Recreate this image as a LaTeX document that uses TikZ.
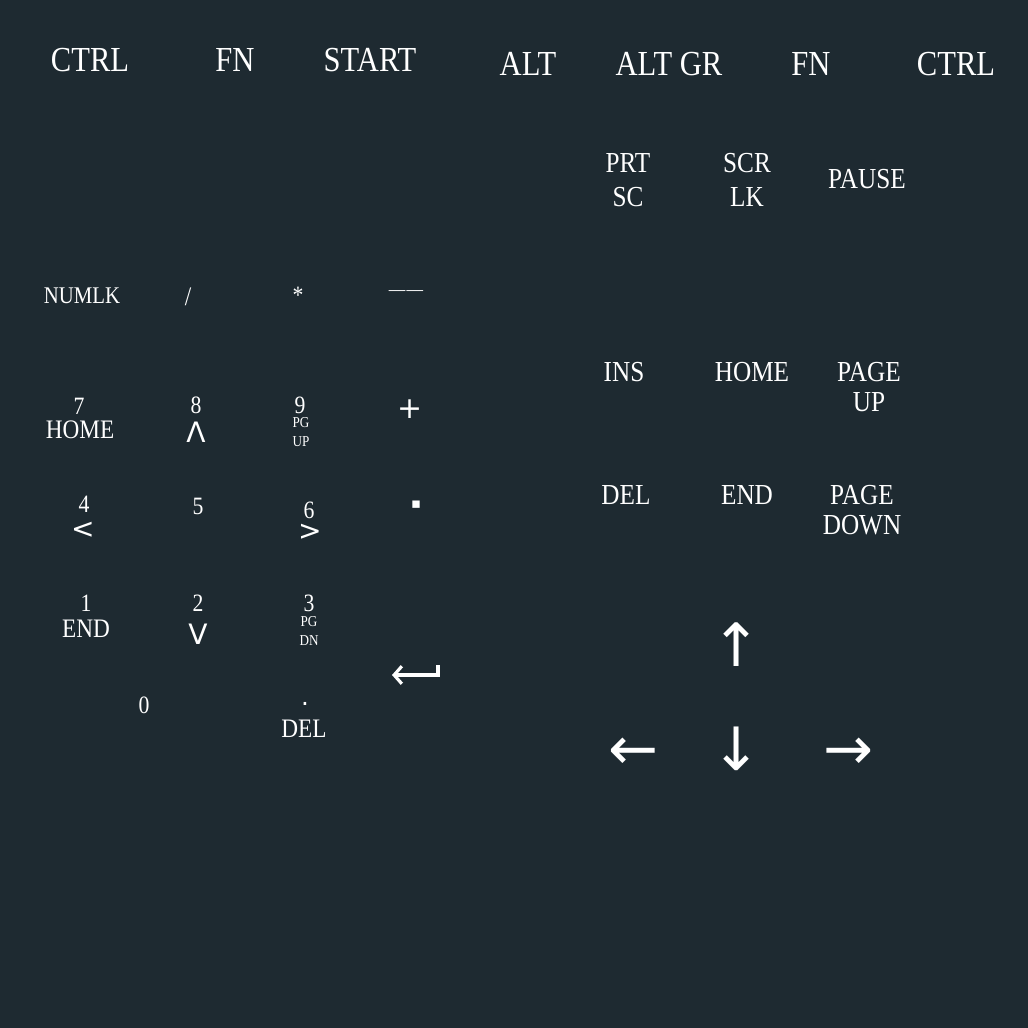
\documentclass[tikz,border=0pt]{standalone}
\usepackage{fontspec}
\setmainfont[FakeStretch=0.87]{Liberation Serif}
\newfontfamily\symfont{DejaVu Sans}
\usetikzlibrary{arrows.meta}
\definecolor{boardbg}{RGB}{30,42,49}
\tikzset{
  keytop/.style={text=white,inner sep=0pt,font=\fontsize{10}{12}\selectfont},
  keynav/.style={text=white,inner sep=0pt,align=center,font=\fontsize{8.25}{8.4}\selectfont},
  keylbl/.style={text=white,inner sep=0pt,font=\fontsize{7.6}{9}\selectfont},
  keynum/.style={text=white,inner sep=0pt,font=\fontsize{7.1}{8}\selectfont},
  keytiny/.style={text=white,inner sep=0pt,align=center,font=\fontsize{4.3}{5.4}\selectfont},
  keysym/.style={text=white,inner sep=0pt,font=\symfont\fontsize{8}{9}\selectfont},
  keyarrow/.style={text=white,inner sep=0pt,font=\symfont\fontsize{17}{18}\selectfont}
}
\begin{document}
\begin{tikzpicture}[x=0.1mm,y=-0.1mm]
\fill[boardbg](0,0)rectangle(1028,1028);
%bottom row
\node[keytop](ctrll)at(90,60){CTRL};
\node[keytop](fnl)at(235,60){FN};
\node[keytop](start)at(370,60){START};
\node[keytop](alt)at(528,64){ALT};
\node[keytop](altgr)at(669,64){ALT GR};
\node[keytop](fnr)at(811,64){FN};
\node[keytop](ctrlr)at(956,64){CTRL};
%print screen block
\node[keynav,font=\fontsize{8.25}{9.7}\selectfont](prtsc)at(628,180){PRT\\SC};
\node[keynav,font=\fontsize{8.25}{9.7}\selectfont](scrlk)at(747,180){SCR\\LK};
\node[keynav](pause)at(867,179){PAUSE};
%numpad
\node[keynum,font=\fontsize{6.8}{8}\selectfont](numlk)at(82,296){NUMLK};
\node[keylbl](slash)at(188,297){/};
\node[keynum](star)at(298,295){*};
\node[keynum,font=\fontsize{5.4}{6}\selectfont](minus)at(406,293){—\hspace{0.4pt}—};
\node[keynum](n7)at(79,406){7};
\node[keylbl](n7sub)at(80,430){HOME};
\node[keynum](n8)at(196,405){8};
\node[keysym](n8sub)at(196,432){Λ};
\node[keynum](n9)at(300,405){9};
\node[keytiny](n9sub)at(301,432){PG\\UP};
\node[keysym,font=\symfont\fontsize{8.5}{9}\selectfont](plus)at(410,409){+};
\node[keynum](n4)at(84,504){4};
\node[keysym](n4sub)at(83,530){<};
\node[keynum](n5)at(198,506){5};
\node[keynum](n6)at(309,510){6};
\node[keysym](n6sub)at(310,532){>};
\node[keysym,font=\symfont\fontsize{4.2}{5}\selectfont](dotkey)at(416,505){▪};
\node[keynum](n1)at(86,603){1};
\node[keylbl](n1sub)at(86,629){END};
\node[keynum](n2)at(198,603){2};
\node[keysym](n2sub)at(198,634){V};
\node[keynum](n3)at(309,603){3};
\node[keytiny](n3sub)at(309,631){PG\\DN};
\node[keynum](n0)at(144,705){0};
\node[keysym,font=\symfont\fontsize{7}{8}\selectfont](ndot)at(305,704){.};
\node[keylbl](ndotsub)at(304,729){DEL};
\coordinate(entertop)at(438,665);
\coordinate(entercorner)at(438,675);
\coordinate(enterend)at(392,675);
\draw[white,line width=0.9pt,-{Straight Barb[length=2.2pt,width=5pt]}](entertop)--(entercorner)--(enterend);
%navigation block
\node[keynav](ins)at(624,372){INS};
\node[keynav](home)at(752,372){HOME};
\node[keynav](pgup)at(869,387){PAGE\\ UP};
\node[keynav](del)at(626,495){DEL};
\node[keynav](endkey)at(747,495){END};
\node[keynav,font=\fontsize{8.25}{8.6}\selectfont](pgdn)at(862,510){PAGE\\DOWN};
%arrows
\node[keyarrow](up)at(737,645){↑};
\node[keyarrow](left)at(634,754){←};
\node[keyarrow](down)at(737,749){↓};
\node[keyarrow](right)at(849,754){→};
\end{tikzpicture}
\end{document}
